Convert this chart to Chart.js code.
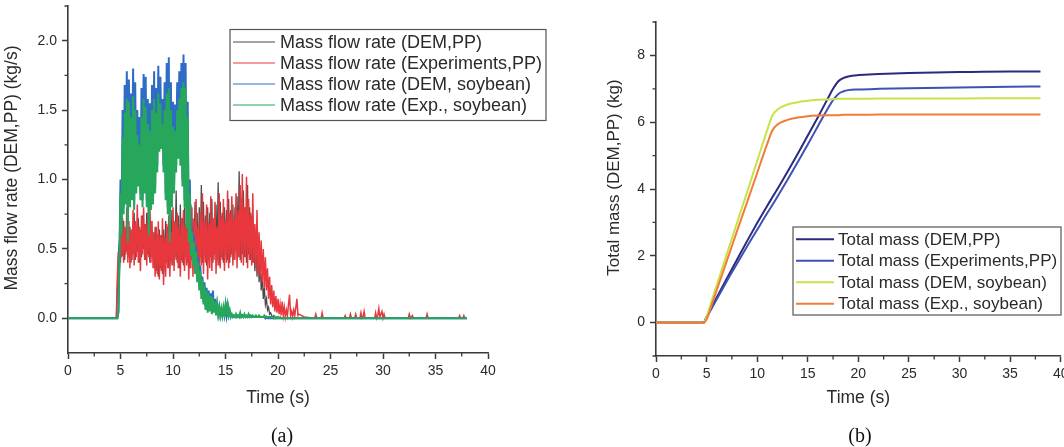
<!DOCTYPE html>
<html>
<head>
<meta charset="utf-8">
<script src="https://cdn.jsdelivr.net/npm/chart.js@4.4.1/dist/chart.umd.min.js"></script>
<style>
  body { margin: 0; background: #fff; width: 1064px; height: 447px; overflow: hidden; position: relative; }
  canvas { position: absolute; top: 0; }
  .cap { position: absolute; top: 424px; width: 50px; text-align: center; line-height: 26px;
         font: 20px 'Liberation Serif', 'DejaVu Serif', serif; color: #111; }
</style>
</head>
<body>
<canvas id="flowChart" width="580" height="447" style="left:0"></canvas>
<canvas id="massChart" width="500" height="447" style="left:580px"></canvas>
<div class="cap" style="left:257px">(a)</div>
<div class="cap" style="left:835px">(b)</div>

<script>
// ---------- data (a): mass flow rate, samples every 0.1 s from 4.5 s to 22 s ----------
const flowStart = 4.5;
const flowStep = 0.1;

const flowDemPP = [
  0, 0, 0.20, 0.46, 0.56, 0.40, 0.64, 0.45, 0.70, 0.42,
  0.62, 0.48, 0.74, 0.44, 0.66, 0.40, 0.64, 0.46, 0.76, 0.42,
  0.66, 0.48, 0.72, 0.40, 0.64, 0.44, 0.74, 0.50, 0.68, 0.42,
  0.76, 0.46, 0.66, 0.40, 0.70, 0.44, 0.62, 0.36, 0.66, 0.34,
  0.60, 0.30, 0.64, 0.36, 0.60, 0.32, 0.64, 0.38, 0.70, 0.40,
  0.66, 0.36, 0.72, 0.42, 0.78, 0.38, 0.70, 0.44, 0.92, 0.40,
  0.74, 0.36, 0.82, 0.42, 0.72, 0.38, 0.80, 0.44, 0.70, 0.40,
  0.76, 0.36, 0.82, 0.42, 0.72, 0.46, 0.84, 0.40, 0.76, 0.38,
  0.80, 0.44, 0.96, 0.40, 0.84, 0.46, 0.74, 0.38, 0.80, 0.42,
  0.76, 0.44, 0.86, 0.40, 0.72, 0.46, 0.82, 0.42, 0.98, 0.38,
  0.84, 0.44, 0.76, 0.40, 0.80, 0.46, 0.78, 0.42, 0.86, 0.40,
  0.78, 0.46, 0.82, 0.42, 0.80, 0.48, 0.88, 0.44, 1.06, 0.42,
  0.86, 0.46, 0.92, 0.44, 0.80, 0.40, 0.96, 0.46, 0.80, 0.42,
  0.74, 0.40, 0.62, 0.34, 0.60, 0.30, 0.50, 0.26, 0.42, 0.20,
  0.32, 0.14, 0.22, 0.10, 0.14, 0.06, 0.08, 0.03, 0.04, 0.02,
  0.01, 0.02, 0.01, 0, 0.01, 0, 0, 0.01, 0, 0,
  0, 0, 0, 0, 0, 0, 0, 0, 0, 0,
  0, 0, 0, 0, 0, 0
];

const flowExpPP = [
  0, 0, 0.30, 0.48, 0.36, 0.60, 0.44, 0.72, 0.40, 0.66,
  0.46, 0.80, 0.40, 0.70, 0.36, 0.64, 0.42, 0.78, 0.38, 0.70,
  0.44, 0.82, 0.40, 0.66, 0.34, 0.74, 0.46, 0.80, 0.42, 0.68,
  0.38, 0.76, 0.44, 0.84, 0.40, 0.70, 0.36, 0.62, 0.30, 0.66,
  0.32, 0.70, 0.28, 0.60, 0.34, 0.72, 0.24, 0.58, 0.30, 0.68,
  0.36, 0.74, 0.30, 0.62, 0.38, 0.80, 0.34, 0.70, 0.42, 0.76,
  0.36, 0.66, 0.30, 0.72, 0.40, 0.78, 0.34, 0.68, 0.38, 0.74,
  0.28, 0.64, 0.36, 0.80, 0.30, 0.70, 0.40, 0.86, 0.34, 0.66,
  0.30, 0.76, 0.38, 0.90, 0.32, 0.70, 0.40, 0.82, 0.28, 0.68,
  0.36, 0.88, 0.34, 0.72, 0.42, 0.84, 0.32, 0.66, 0.38, 0.90,
  0.36, 0.74, 0.42, 0.86, 0.34, 0.70, 0.40, 0.92, 0.36, 0.76,
  0.44, 0.88, 0.38, 0.72, 0.42, 0.90, 0.36, 0.78, 0.44, 0.96,
  0.40, 1.04, 0.38, 0.80, 0.44, 1.02, 0.36, 0.86, 0.42, 0.76,
  0.38, 0.90, 0.40, 0.68, 0.36, 0.78, 0.32, 0.62, 0.30, 0.56,
  0.26, 0.50, 0.22, 0.44, 0.20, 0.36, 0.14, 0.30, 0.10, 0.24,
  0.08, 0.20, 0.05, 0.16, 0.04, 0.14, 0.03, 0.10, 0.02, 0.12,
  0.02, 0.08, 0.01, 0.06, 0.02, 0.10, 0.17, 0.02, 0.05, 0.01,
  0.06, 0.02, 0.08, 0.14, 0.02, 0.03
];

const flowDemSoy = [
  0, 0, 0, 0.04, 0.45, 1.00, 0.65, 1.50, 0.80, 1.68,
  0.86, 1.78, 0.60, 1.72, 0.85, 1.62, 0.90, 1.80, 0.82, 1.70,
  0.95, 1.50, 1.00, 1.45, 0.90, 1.66, 0.85, 1.76, 0.95, 1.74,
  0.85, 1.58, 0.65, 1.55, 0.82, 1.68, 0.88, 1.78, 0.95, 1.66,
  1.10, 1.82, 1.25, 1.74, 1.26, 1.58, 1.10, 1.70, 0.90, 1.84,
  0.80, 1.88, 0.60, 1.70, 0.85, 1.56, 0.95, 1.54, 1.10, 1.70,
  1.20, 1.78, 1.15, 1.84, 1.00, 1.90, 0.85, 1.84, 0.70, 1.56,
  0.60, 1.00, 0.50, 0.66, 0.42, 0.60, 0.36, 0.52, 0.30, 0.44,
  0.24, 0.38, 0.18, 0.30, 0.12, 0.26, 0.08, 0.22, 0.06, 0.20,
  0.07, 0.18, 0.06, 0.20, 0.05, 0.14, 0.03, 0.10, 0.03, 0.08,
  0.02, 0.06, 0.02, 0.06, 0.02, 0.08, 0.02, 0.09, 0.02, 0.05,
  0.01, 0.02, 0.01, 0.02, 0.01, 0.02, 0.01, 0.02, 0.01, 0.03,
  0.01, 0.02, 0.01, 0.02, 0.01, 0.01, 0.01, 0.02, 0.01, 0.01,
  0.01, 0.01, 0.01, 0.01, 0.01, 0.01, 0.01, 0.01, 0.01, 0.01,
  0.01, 0.01, 0.01, 0, 0.01, 0, 0, 0, 0, 0,
  0, 0, 0, 0, 0, 0, 0, 0, 0, 0,
  0, 0, 0, 0, 0, 0, 0, 0, 0, 0,
  0, 0, 0, 0, 0, 0
];

const flowExpSoy = [
  0, 0, 0, 0.05, 0.40, 0.90, 0.60, 1.30, 0.75, 1.48,
  0.82, 1.58, 0.55, 1.56, 0.80, 1.45, 0.85, 1.60, 0.78, 1.50,
  0.90, 1.32, 0.95, 1.25, 0.85, 1.45, 0.80, 1.58, 0.90, 1.52,
  0.80, 1.40, 0.60, 1.35, 0.78, 1.50, 0.82, 1.58, 0.90, 1.48,
  1.05, 1.62, 1.20, 1.55, 1.22, 1.40, 1.05, 1.50, 0.85, 1.62,
  0.75, 1.66, 0.55, 1.50, 0.80, 1.38, 0.90, 1.35, 1.05, 1.50,
  1.15, 1.58, 1.10, 1.66, 0.95, 1.70, 0.80, 1.66, 0.65, 1.45,
  0.55, 0.90, 0.45, 0.62, 0.38, 0.55, 0.32, 0.48, 0.26, 0.40,
  0.20, 0.34, 0.14, 0.28, 0.10, 0.24, 0.06, 0.20, 0.04, 0.18,
  0.05, 0.16, 0.03, 0.15, 0.04, 0.12, 0.02, 0.10, 0.03, 0.08,
  0.02, 0.07, 0.02, 0.08, 0.03, 0.10, 0.02, 0.12, 0.03, 0.06,
  0.01, 0.03, 0.01, 0.02, 0.01, 0.03, 0.01, 0.02, 0.01, 0.04,
  0.01, 0.02, 0.01, 0.03, 0.01, 0.02, 0.01, 0.03, 0.01, 0.02,
  0.01, 0.02, 0.01, 0.01, 0.02, 0.01, 0.01, 0.02, 0.01, 0.01,
  0.01, 0.01, 0.02, 0.01, 0.01, 0.01, 0.01, 0.01, 0.01, 0.01,
  0.01, 0, 0.01, 0, 0, 0.01, 0, 0, 0, 0,
  0, 0, 0, 0, 0, 0, 0, 0, 0, 0,
  0, 0, 0, 0, 0, 0
];

// small spikes of the experiment (PP) after 22 s
const tailTime = [22.5, 23.5, 23.6, 23.7, 24.1, 24.2, 24.3, 26.3, 26.4, 26.5, 26.8, 26.9, 27.0,
  27.3, 27.4, 27.5, 27.8, 27.9, 28.0, 28.1, 28.2, 28.3, 29.2, 29.3, 29.4, 29.5, 29.6, 29.7,
  29.8, 29.9, 30.0, 30.1, 30.2, 32.4, 32.5, 32.6, 32.7, 32.8, 32.9, 34.1, 34.2, 34.3,
  37.2, 37.3, 37.4, 37.6, 37.7, 37.8, 38.0];
const tailExpPP = [0.01, 0, 0.03, 0, 0, 0.04, 0, 0, 0.02, 0, 0, 0.03, 0,
  0, 0.03, 0, 0, 0.04, 0, 0.01, 0.05, 0, 0, 0.04, 0, 0.02, 0.07, 0.01,
  0.03, 0.05, 0, 0.03, 0, 0, 0.03, 0, 0.01, 0.02, 0, 0, 0.03, 0,
  0, 0.02, 0, 0, 0.02, 0, 0];

// ---------- data (b): total mass ----------
const massTime   = [0, 4.7, 5, 5.5, 6, 7, 8, 9, 10, 11, 11.5, 12, 13, 14, 15, 16, 17, 17.5, 18, 18.5, 19, 20, 22, 25, 30, 35, 38];
const massDemPP  = [0, 0, 0.18, 0.46, 0.75, 1.32, 1.88, 2.44, 2.98, 3.50, 3.75, 4.00, 4.52, 5.05, 5.60, 6.15, 6.72, 7.00, 7.22, 7.32, 7.37, 7.41, 7.44, 7.47, 7.50, 7.52, 7.52];
const massExpPP  = [0, 0, 0.15, 0.42, 0.70, 1.24, 1.76, 2.28, 2.78, 3.28, 3.52, 3.77, 4.28, 4.80, 5.33, 5.88, 6.42, 6.66, 6.84, 6.92, 6.96, 6.98, 7.00, 7.02, 7.04, 7.06, 7.07];
const massDemSoy = [0, 0, 0.17, 0.65, 1.12, 2.05, 2.98, 3.90, 4.84, 5.77, 6.20, 6.38, 6.53, 6.60, 6.64, 6.67, 6.68, 6.69, 6.70, 6.70, 6.70, 6.70, 6.71, 6.71, 6.71, 6.72, 6.72];
const massExpSoy = [0, 0, 0.09, 0.53, 0.97, 1.85, 2.73, 3.60, 4.48, 5.36, 5.75, 5.93, 6.07, 6.14, 6.18, 6.20, 6.21, 6.21, 6.21, 6.22, 6.22, 6.22, 6.23, 6.23, 6.23, 6.23, 6.23];

// tick labels
const timeTicks = [0, 5, 10, 15, 20, 25, 30, 35, 40];
const flowTicks = [0, 0.5, 1.0, 1.5, 2.0];
const massTicks = [0, 2, 4, 6, 8];

const axisColor = '#3a3a3a';
const textColor = '#2a2a2a';
Chart.defaults.font.family = "'Liberation Sans', Arial, sans-serif";
Chart.defaults.color = textColor;

// flow series: baseline at 0 s, the sampled part, then the tail
function flowSeries(vals, tTail, vTail) {
  const pts = [{ x: 0, y: 0 }];
  vals.forEach((v, i) => pts.push({ x: +(flowStart + i * flowStep).toFixed(2), y: v }));
  if (tTail) tTail.forEach((t, i) => pts.push({ x: t, y: vTail[i] }));
  else pts.push({ x: 38, y: 0 });
  return pts;
}

// minor ticks, rotated y title and the boxed legend
const decor = {
  id: 'decor',
  afterDraw(chart, args, o) {
    const { ctx, chartArea: a, scales: { x, y } } = chart;
    ctx.save();
    ctx.strokeStyle = axisColor;
    ctx.lineWidth = 1.3;
    ctx.beginPath();
    for (let v = x.min + o.minorX; v < x.max; v += 2 * o.minorX) {
      const px = x.getPixelForValue(v);
      ctx.moveTo(px, a.bottom); ctx.lineTo(px, a.bottom + 3.5);
    }
    for (let v = o.firstMinorY; v <= y.max + 1e-6; v += 2 * o.minorY) {
      const py = y.getPixelForValue(v);
      ctx.moveTo(a.left, py); ctx.lineTo(a.left - 3.5, py);
    }
    ctx.stroke();

    // y axis title
    ctx.fillStyle = textColor;
    ctx.font = o.titleSize + "px 'Liberation Sans', Arial, sans-serif";
    ctx.textAlign = 'center';
    ctx.textBaseline = 'middle';
    ctx.translate(o.yTitle.x, o.yTitle.y);
    ctx.rotate(-Math.PI / 2);
    ctx.fillText(o.yTitle.text, 0, 0);
    ctx.setTransform(1, 0, 0, 1, 0, 0);

    // legend
    const L = o.legend;
    ctx.strokeStyle = '#555';
    ctx.lineWidth = 1.2;
    ctx.strokeRect(L.x, L.y, L.w, L.h);
    ctx.font = L.size + "px 'Liberation Sans', Arial, sans-serif";
    ctx.textAlign = 'left';
    chart.data.datasets.forEach((ds, i) => {
      const ry = L.y + L.first + i * L.row;
      ctx.strokeStyle = ds.borderColor;
      ctx.lineWidth = L.lw;
      ctx.beginPath();
      ctx.moveTo(L.x + 3, ry); ctx.lineTo(L.x + 3 + L.line, ry);
      ctx.stroke();
      ctx.fillStyle = textColor;
      ctx.fillText(ds.label, L.x + L.text, ry + 1);
    });
    ctx.restore();
  }
};

function xAxis(height) {
  return {
    type: 'linear', min: 0, max: 40,
    afterBuildTicks: s => { s.ticks = timeTicks.map(v => ({ value: v })); },
    afterFit: s => { s.height = height; s.paddingLeft = 0; s.paddingRight = 0; },
    grid: { drawOnChartArea: false, tickLength: 6, tickWidth: 1.5, tickColor: axisColor },
    border: { color: axisColor, width: 1.6 },
    ticks: { color: textColor, font: { size: 14 }, padding: 4, maxRotation: 0, autoSkip: false },
    title: { display: true, text: 'Time (s)', color: textColor, font: { size: 17.5 }, padding: { top: 0, bottom: 38.5 } }
  };
}

function yAxis(min, max, ticks, width, fmt) {
  return {
    type: 'linear', min: min, max: max,
    afterBuildTicks: s => { s.ticks = ticks.map(v => ({ value: v })); },
    afterFit: s => { s.width = width; s.paddingTop = 0; s.paddingBottom = 0; },
    grid: { drawOnChartArea: false, tickLength: 6, tickWidth: 1.5, tickColor: axisColor },
    border: { color: axisColor, width: 1.6 },
    ticks: { color: textColor, font: { size: 14 }, padding: 5, autoSkip: false, callback: fmt }
  };
}

// -------------------- (a) mass flow rate --------------------
new Chart(document.getElementById('flowChart'), {
  type: 'line',
  data: {
    datasets: [
      { label: 'Mass flow rate (DEM,PP)', data: flowSeries(flowDemPP), borderColor: '#4a4a4a', borderWidth: 1.3, order: 3 },
      { label: 'Mass flow rate (Experiments,PP)', data: flowSeries(flowExpPP, tailTime, tailExpPP), borderColor: '#e8383d', borderWidth: 1.5, order: 2 },
      { label: 'Mass flow rate (DEM, soybean)', data: flowSeries(flowDemSoy), borderColor: '#2f6cc6', borderWidth: 2, order: 1 },
      { label: 'Mass flow rate (Exp., soybean)', data: flowSeries(flowExpSoy), borderColor: '#27a75b', borderWidth: 2, order: 0 }
    ]
  },
  options: {
    responsive: false,
    animation: false,
    layout: { padding: { left: 0, top: 6, right: 92, bottom: 0 } },
    elements: { point: { radius: 0 }, line: { tension: 0 } },
    plugins: {
      legend: { display: false },
      tooltip: { enabled: false },
      decor: {
        minorX: 2.5, minorY: 0.25, firstMinorY: 0.25, titleSize: 17.5,
        yTitle: { text: 'Mass flow rate (DEM,PP) (kg/s)', x: 12, y: 168 },
        legend: { x: 230, y: 29.5, w: 316, h: 91, first: 12.5, row: 21, line: 42, text: 50, size: 18, lw: 1.2 }
      }
    },
    scales: {
      x: xAxis(94),
      y: yAxis(-0.25, 2.25, flowTicks, 68, v => v.toFixed(1))
    }
  },
  plugins: [decor]
});

// -------------------- (b) total mass --------------------
new Chart(document.getElementById('massChart'), {
  type: 'line',
  data: {
    labels: massTime,
    datasets: [
      { label: 'Total mass (DEM,PP)', data: massDemPP, borderColor: '#2c2a7c', order: 3 },
      { label: 'Total mass (Experiments,PP)', data: massExpPP, borderColor: '#3f51b5', order: 2 },
      { label: 'Total mass (DEM, soybean)', data: massDemSoy, borderColor: '#c8e24a', order: 1 },
      { label: 'Total mass (Exp., soybean)', data: massExpSoy, borderColor: '#f27c36', order: 0 }
    ]
  },
  options: {
    responsive: false,
    animation: false,
    layout: { padding: { left: 0, top: 22, right: 19.3, bottom: 0 } },
    elements: { point: { radius: 0 }, line: { borderWidth: 2, cubicInterpolationMode: 'monotone' } },
    plugins: {
      legend: { display: false },
      tooltip: { enabled: false },
      decor: {
        minorX: 2.5, minorY: 1, firstMinorY: -1, titleSize: 17,
        yTitle: { text: 'Total mass (DEM,PP) (kg)', x: 34, y: 177.5 },
        legend: { x: 213, y: 227, w: 268, h: 88, first: 12.3, row: 21.5, line: 38, text: 45, size: 17, lw: 2 }
      }
    },
    scales: {
      x: xAxis(91),
      y: yAxis(-1, 9, massTicks, 76, v => v)
    }
  },
  plugins: [decor]
});
</script>
</body>
</html>
